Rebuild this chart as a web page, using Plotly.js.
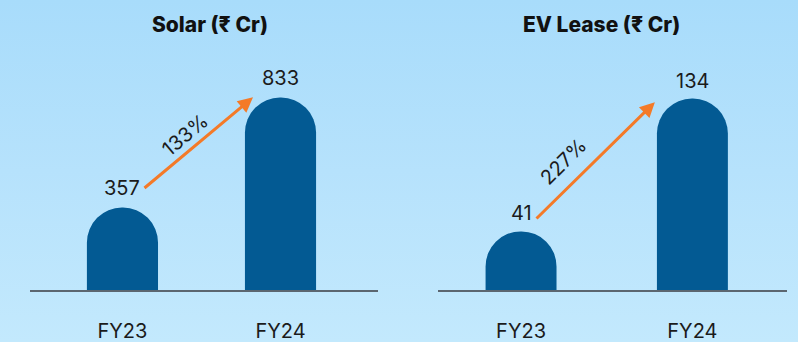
<!DOCTYPE html>
<html>
<head>
<meta charset="utf-8">
<script src="https://cdn.plot.ly/plotly-3.0.1.min.js"></script>
<style>
html,body{margin:0;padding:0;width:798px;height:342px;overflow:hidden;
background:linear-gradient(to bottom,#a8dcfb 0%,#b6e2fc 50%,#c3e9fd 100%);}
#chart{width:798px;height:342px;}
</style>
</head>
<body>
<div id="chart"></div>
<script>
const categories = ["FY23", "FY24"];
const solarValues = [357, 833];
const evValues = [41, 134];
const solarGrowth = "133%";
const evGrowth = "227%";
const titles = ["Solar (₹ Cr)", "EV Lease (₹ Cr)"];

const barColor = "#035a93";
const arrowColor = "#f47a28";
const textColor = "#1b1b1b";
const numFont = {family: "Inter, Roboto, sans-serif", size: 20, color: textColor};
const titleFont = {family: "Inter, Lato, sans-serif", size: 21, color: "#111", weight: 800};

const traces = [
  {type: "bar", x: categories, y: solarValues, xaxis: "x", yaxis: "y",
   width: 0.45, marker: {color: barColor, cornerradius: "50%", line: {width: 0}},
   hoverinfo: "none"},
  {type: "bar", x: categories, y: evValues, xaxis: "x2", yaxis: "y2",
   width: 0.414, marker: {color: barColor, cornerradius: "50%", line: {width: 0}},
   hoverinfo: "none"}
];

const annotations = [];
// value labels
categories.forEach((c, i) => {
  annotations.push({x: c, y: solarValues[i], xref: "x", yref: "y", text: String(solarValues[i]),
    showarrow: false, xanchor: "center", yanchor: "middle", yshift: 20, font: numFont});
  annotations.push({x: c, y: evValues[i], xref: "x2", yref: "y2", text: String(evValues[i]),
    showarrow: false, xanchor: "center", yanchor: "middle", yshift: 18, font: numFont});
});
// growth arrows
annotations.push({xref: "x", yref: "y", axref: "x", ayref: "y",
  x: 0.826, y: 834, ax: 0.13, ay: 436, text: "", showarrow: true,
  arrowhead: 2, arrowsize: 1, arrowwidth: 3, arrowcolor: arrowColor, standoff: 0, startstandoff: 0});
annotations.push({xref: "x2", yref: "y2", axref: "x2", ayref: "y2",
  x: 0.781, y: 131.5, ax: 0.0816, ay: 49, text: "", showarrow: true,
  arrowhead: 2, arrowsize: 1, arrowwidth: 3, arrowcolor: arrowColor, standoff: 0, startstandoff: 0});
// growth labels
annotations.push({xref: "x", yref: "y", x: 0.396, y: 670, text: solarGrowth, showarrow: false,
  xanchor: "center", yanchor: "middle", textangle: -40, font: numFont});
annotations.push({xref: "x2", yref: "y2", x: 0.245, y: 89.6, text: evGrowth, showarrow: false,
  xanchor: "center", yanchor: "middle", textangle: -45, font: numFont});
// titles
annotations.push({xref: "paper", yref: "paper", x: 0.263, y: 0.927, xanchor: "center", yanchor: "middle",
  text: titles[0], showarrow: false, font: titleFont});
annotations.push({xref: "paper", yref: "paper", x: 0.754, y: 0.927, xanchor: "center", yanchor: "middle",
  text: titles[1], showarrow: false, font: titleFont});

const xBase = {type: "category", showline: true, linecolor: "#5b6670", linewidth: 1.5,
  showgrid: false, zeroline: false, ticks: "", ticklabelstandoff: 22,
  tickfont: {family: "Inter, Roboto, sans-serif", size: 20, color: textColor}, fixedrange: true};
const yBase = {visible: false, showgrid: false, zeroline: false, fixedrange: true};

const layout = {
  width: 798, height: 342,
  margin: {l: 0, r: 0, t: 0, b: 0},
  paper_bgcolor: "rgba(0,0,0,0)", plot_bgcolor: "rgba(0,0,0,0)",
  showlegend: false,
  xaxis: Object.assign({}, xBase, {domain: [0.0376, 0.4737], range: [-0.585, 1.617], anchor: "y"}),
  yaxis: Object.assign({}, yBase, {domain: [0.152, 1], range: [0, 1255], anchor: "x"}),
  xaxis2: Object.assign({}, xBase, {domain: [0.549, 0.986], range: [-0.484, 1.551], anchor: "y2"}),
  yaxis2: Object.assign({}, yBase, {domain: [0.152, 1], range: [0, 203], anchor: "x2"}),
  annotations: annotations
};

Plotly.newPlot("chart", traces, layout, {displayModeBar: false, staticPlot: true});
</script>
</body>
</html>
